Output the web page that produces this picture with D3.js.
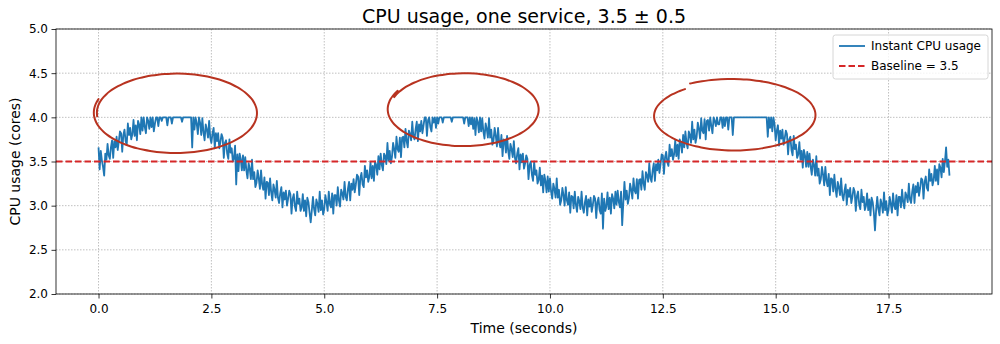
<!DOCTYPE html>
<html>
<head>
<meta charset="utf-8">
<script src="https://cdn.jsdelivr.net/npm/d3@7"></script>
<style>
  html, body { margin: 0; padding: 0; background: #fff; }
  svg { display: block; font-family: "DejaVu Sans", sans-serif; }
</style>
</head>
<body>
<svg id="chart" width="1000" height="344"></svg>
<script>
// ---------------- data ----------------
const chartTitle = "CPU usage, one service, 3.5 \u00b1 0.5";
const xLabel = "Time (seconds)";
const yLabel = "CPU usage (cores)";
const seriesName = "Instant CPU usage";
const baselineName = "Baseline = 3.5";
const baselineValue = 3.5;
const timeStart = 0;
const timeEnd = 18.85;
const xTicks = [0, 2.5, 5, 7.5, 10, 12.5, 15, 17.5];
const yTicks = [2.0, 2.5, 3.0, 3.5, 4.0, 4.5, 5.0];
const xDomain = [-0.942, 19.792];
const yDomain = [2.0, 5.0];

// CPU samples, evenly spaced from timeStart to timeEnd
const cpuValues = [
  3.66, 3.41, 3.62, 3.51, 3.44, 3.34, 3.59, 3.52, 3.70, 3.57,
  3.53, 3.66, 3.74, 3.54, 3.73, 3.66, 3.78, 3.63, 3.73, 3.84,
  3.82, 3.61, 3.80, 3.86, 3.73, 3.69, 3.93, 3.80, 3.88, 3.75,
  3.81, 3.97, 3.79, 3.91, 3.74, 3.96, 3.92, 3.81, 4.00, 3.85,
  4.00, 3.89, 3.82, 4.00, 3.96, 3.87, 4.00, 3.89, 4.00, 3.84,
  3.93, 4.00, 4.00, 3.90, 4.00, 4.00, 3.96, 4.00, 4.00, 4.00,
  4.00, 3.91, 4.00, 4.00, 4.00, 3.93, 4.00, 4.00, 4.00, 4.00,
  4.00, 4.00, 4.00, 4.00, 3.95, 4.00, 4.00, 4.00, 4.00, 4.00,
  4.00, 4.00, 4.00, 3.66, 4.00, 3.86, 4.00, 3.93, 3.81, 4.00,
  3.94, 3.80, 3.99, 3.83, 3.74, 3.92, 3.86, 3.77, 3.96, 3.77,
  3.71, 3.82, 3.88, 3.65, 3.82, 3.73, 3.82, 3.65, 3.72, 3.81,
  3.77, 3.54, 3.71, 3.74, 3.59, 3.53, 3.75, 3.60, 3.65, 3.50,
  3.54, 3.68, 3.24, 3.58, 3.39, 3.59, 3.53, 3.40, 3.57, 3.40,
  3.55, 3.40, 3.31, 3.48, 3.42, 3.30, 3.52, 3.30, 3.38, 3.21,
  3.26, 3.40, 3.31, 3.19, 3.40, 3.24, 3.18, 3.32, 3.08, 3.27,
  3.26, 3.12, 3.31, 3.15, 3.06, 3.24, 3.18, 3.09, 3.28, 3.09,
  3.03, 3.14, 3.21, 2.98, 3.15, 3.07, 3.17, 3.00, 3.08, 3.17,
  3.13, 2.91, 3.08, 3.13, 2.99, 2.94, 3.16, 3.02, 3.08, 2.94,
  2.98, 3.13, 2.94, 3.06, 2.88, 3.09, 3.04, 2.92, 2.81, 2.95,
  3.10, 2.96, 2.89, 3.07, 3.02, 2.93, 3.16, 2.95, 3.06, 2.90,
  2.96, 3.12, 3.04, 2.94, 3.16, 3.02, 2.98, 3.14, 2.91, 3.12,
  3.12, 3.00, 3.21, 3.06, 2.99, 3.18, 3.14, 3.07, 3.27, 3.10,
  3.06, 3.19, 3.27, 3.06, 3.25, 3.18, 3.30, 3.15, 3.24, 3.35,
  3.33, 3.12, 3.31, 3.37, 3.24, 3.21, 3.45, 3.32, 3.40, 3.27,
  3.33, 3.49, 3.31, 3.45, 3.28, 3.50, 3.46, 3.35, 3.56, 3.41,
  3.59, 3.46, 3.40, 3.59, 3.56, 3.47, 3.71, 3.51, 3.62, 3.48,
  3.55, 3.71, 3.64, 3.54, 3.78, 3.64, 3.61, 3.77, 3.55, 3.77,
  3.78, 3.66, 3.87, 3.73, 3.66, 3.85, 3.81, 3.74, 3.95, 3.78,
  3.75, 3.87, 3.95, 3.73, 3.92, 3.84, 3.96, 3.82, 3.91, 4.00,
  4.00, 3.79, 3.97, 4.00, 3.89, 3.84, 4.00, 3.94, 4.00, 3.88,
  4.00, 3.93, 4.00, 4.00, 4.00, 3.94, 4.00, 4.00, 4.00, 4.00,
  4.00, 4.00, 4.00, 3.95, 4.00, 4.00, 4.00, 4.00, 4.00, 4.00,
  4.00, 4.00, 4.00, 4.00, 3.93, 4.00, 4.00, 4.00, 3.90, 4.00,
  3.92, 4.00, 3.87, 3.99, 3.80, 4.00, 3.95, 3.83, 4.00, 3.84,
  3.99, 3.84, 3.76, 3.93, 3.87, 3.77, 3.99, 3.77, 3.86, 3.69,
  3.74, 3.88, 3.79, 3.67, 3.88, 3.72, 3.66, 3.80, 3.56, 3.75,
  3.74, 3.60, 3.79, 3.62, 3.53, 3.70, 3.64, 3.55, 3.73, 3.54,
  3.48, 3.59, 3.65, 3.41, 3.58, 3.49, 3.59, 3.42, 3.48, 3.57,
  3.53, 3.30, 3.46, 3.50, 3.35, 3.28, 3.50, 3.35, 3.40, 3.25,
  3.29, 3.43, 3.23, 3.34, 3.15, 3.35, 3.28, 3.15, 3.33, 3.16,
  3.31, 3.16, 3.08, 3.25, 3.19, 3.09, 3.31, 3.09, 3.18, 3.01,
  3.06, 3.20, 3.12, 3.00, 3.21, 3.06, 3.01, 3.15, 2.92, 3.11,
  3.10, 2.97, 3.16, 3.01, 2.93, 3.10, 3.05, 2.96, 3.16, 2.98,
  2.92, 3.04, 3.11, 2.89, 3.07, 2.99, 3.09, 2.93, 3.01, 3.11,
  3.08, 2.86, 3.04, 3.09, 2.95, 2.91, 3.14, 2.74, 3.08, 2.94,
  2.99, 3.15, 2.96, 3.09, 2.91, 3.13, 3.08, 2.97, 3.16, 3.01,
  3.17, 3.04, 2.98, 3.16, 2.78, 3.03, 3.27, 3.07, 3.17, 3.02,
  3.09, 3.25, 3.18, 3.08, 3.31, 3.17, 3.14, 3.30, 3.08, 3.29,
  3.30, 3.18, 3.39, 3.25, 3.18, 3.38, 3.34, 3.27, 3.48, 3.31,
  3.27, 3.40, 3.48, 3.28, 3.47, 3.40, 3.52, 3.37, 3.47, 3.58,
  3.57, 3.36, 3.55, 3.61, 3.49, 3.45, 3.69, 3.56, 3.64, 3.52,
  3.58, 3.74, 3.56, 3.69, 3.53, 3.75, 3.71, 3.60, 3.80, 3.66,
  3.84, 3.71, 3.65, 3.84, 3.80, 3.71, 3.95, 3.75, 3.86, 3.71,
  3.78, 3.94, 3.87, 3.76, 3.99, 3.85, 3.82, 3.98, 3.75, 3.96,
  3.97, 3.85, 4.00, 3.90, 3.82, 4.00, 3.96, 3.90, 4.00, 3.92,
  3.92, 4.00, 4.00, 3.88, 4.00, 3.90, 4.00, 4.00, 3.86, 4.00,
  4.00, 4.00, 3.80, 4.00, 4.00, 4.00, 4.00, 4.00, 4.00, 4.00,
  4.00, 4.00, 4.00, 4.00, 4.00, 4.00, 4.00, 4.00, 4.00, 4.00,
  4.00, 4.00, 4.00, 4.00, 4.00, 4.00, 4.00, 4.00, 4.00, 4.00,
  4.00, 4.00, 4.00, 3.78, 4.00, 3.88, 4.00, 3.84, 4.00, 3.92,
  3.74, 3.85, 3.91, 3.68, 3.85, 3.76, 3.86, 3.69, 3.76, 3.85,
  3.81, 3.58, 3.75, 3.78, 3.63, 3.57, 3.79, 3.64, 3.69, 3.54,
  3.58, 3.72, 3.52, 3.62, 3.43, 3.63, 3.57, 3.44, 3.61, 3.44,
  3.59, 3.44, 3.35, 3.52, 3.46, 3.34, 3.56, 3.34, 3.42, 3.25,
  3.30, 3.44, 3.35, 3.23, 3.44, 3.28, 3.22, 3.36, 3.12, 3.31,
  3.30, 3.16, 3.35, 3.19, 3.10, 3.27, 3.21, 3.12, 3.31, 3.12,
  3.06, 3.17, 3.24, 3.01, 3.18, 3.10, 3.20, 3.03, 3.10, 3.20,
  3.16, 2.94, 3.11, 3.16, 3.01, 2.96, 3.18, 3.04, 3.10, 2.95,
  3.00, 3.14, 2.95, 3.07, 2.89, 3.09, 3.04, 2.92, 2.72, 2.95,
  3.10, 2.96, 2.89, 3.07, 3.02, 2.92, 3.15, 2.95, 3.05, 2.89,
  2.95, 3.10, 3.02, 2.92, 3.14, 3.00, 2.96, 3.12, 2.89, 3.10,
  3.10, 2.98, 3.18, 3.04, 2.97, 3.15, 3.11, 3.04, 3.25, 3.07,
  3.03, 3.16, 3.24, 3.03, 3.22, 3.15, 3.26, 3.11, 3.20, 3.31,
  3.29, 3.08, 3.27, 3.33, 3.20, 3.17, 3.41, 3.28, 3.36, 3.23,
  3.29, 3.45, 3.28, 3.41, 3.24, 3.47, 3.43, 3.32, 3.53, 3.38,
  3.50, 3.66, 3.44, 3.52, 3.34
];

// hand-drawn annotation loops, in data units
const annoCenterT = [1.72, 8.09, 14.05];
const annoCenterV = [4.05, 4.09, 4.02];
const annoRadiusT = [1.83, 1.69, 1.72];
const annoRadiusV = [0.46, 0.42, 0.38];
const annoStartDeg = [160, 150, 128];
const annoSweepDeg = [385, 370, 352];
const annoScaleEnd = [0.96, 0.97, 1.10];

// ---------------- drawing ----------------
(function () {
const svg = d3.select("#chart");
const pL = 56, pR = 992, pT = 29, pB = 294;

const x = d3.scaleLinear().domain(xDomain).range([pL, pR]);
const y = d3.scaleLinear().domain(yDomain).range([pB, pT]);

const n = cpuValues.length;
const tAt = i => timeStart + (timeEnd - timeStart) * i / (n - 1);

const grid = svg.append("g");
grid.selectAll("line.gx").data(xTicks).join("line")
  .attr("x1", d => x(d)).attr("x2", d => x(d))
  .attr("y1", pT).attr("y2", pB)
  .attr("stroke", "#b0b0b0").attr("stroke-width", 0.8)
  .attr("stroke-dasharray", "1.5,1.5");
grid.selectAll("line.gy").data(yTicks).join("line")
  .attr("x1", pL).attr("x2", pR)
  .attr("y1", d => y(d)).attr("y2", d => y(d))
  .attr("stroke", "#b0b0b0").attr("stroke-width", 0.8)
  .attr("stroke-dasharray", "1.5,1.5");

svg.append("clipPath").attr("id", "clip").append("rect")
  .attr("x", pL).attr("y", pT).attr("width", pR - pL).attr("height", pB - pT);

const plot = svg.append("g").attr("clip-path", "url(#clip)");

const line = d3.line().x((d, i) => x(tAt(i))).y(d => y(d));
plot.append("path").datum(cpuValues)
  .attr("d", line)
  .attr("fill", "none")
  .attr("stroke", "#1f77b4")
  .attr("stroke-width", 1.8)
  .attr("stroke-linejoin", "round");

plot.append("line")
  .attr("x1", pL).attr("x2", pR)
  .attr("y1", y(baselineValue)).attr("y2", y(baselineValue))
  .attr("stroke", "#d62728").attr("stroke-width", 1.8)
  .attr("stroke-dasharray", "6.5,3");

const annoLine = d3.line().x(d => x(d[0])).y(d => y(d[1])).curve(d3.curveBasis);
annoCenterT.forEach((cx, k) => {
  const pts = [];
  const steps = 80;
  for (let s = 0; s <= steps; s++) {
    const f = s / steps;
    const th = (annoStartDeg[k] + annoSweepDeg[k] * f) * Math.PI / 180;
    const sc = 1 + (annoScaleEnd[k] - 1) * f;
    pts.push([cx + annoRadiusT[k] * sc * Math.cos(th), annoCenterV[k] + annoRadiusV[k] * sc * Math.sin(th)]);
  }
  svg.append("path").datum(pts)
    .attr("d", annoLine)
    .attr("fill", "none")
    .attr("stroke", "#b83320")
    .attr("stroke-width", 2)
    .attr("stroke-linecap", "round");
});

const xAxis = d3.axisBottom(x).tickValues(xTicks).tickFormat(d3.format(".1f")).tickSize(4.5).tickPadding(6);
const yAxis = d3.axisLeft(y).tickValues(yTicks).tickFormat(d3.format(".1f")).tickSize(4.5).tickPadding(3.5);
const gx = svg.append("g").attr("transform", `translate(0,${pB})`).call(xAxis);
const gy = svg.append("g").attr("transform", `translate(${pL},0)`).call(yAxis);
[gx, gy].forEach(g => {
  g.select(".domain").remove();
  g.selectAll(".tick line").attr("stroke", "#000").attr("stroke-width", 0.8);
  g.selectAll(".tick text").attr("fill", "#000").style("font-size", "12px").style("font-family", "DejaVu Sans");
});

svg.append("rect")
  .attr("x", pL).attr("y", pT).attr("width", pR - pL).attr("height", pB - pT)
  .attr("fill", "none").attr("stroke", "#000").attr("stroke-width", 0.8);

svg.append("text").attr("x", (pL + pR) / 2).attr("y", 23)
  .attr("text-anchor", "middle").style("font-size", "19px").text(chartTitle);
svg.append("text").attr("x", (pL + pR) / 2).attr("y", 333)
  .attr("text-anchor", "middle").style("font-size", "14px").text(xLabel);
svg.append("text").attr("transform", `translate(20,${(pT + pB) / 2}) rotate(-90)`)
  .attr("text-anchor", "middle").style("font-size", "14px").text(yLabel);

const lg = svg.append("g");
lg.append("rect").attr("x", 833).attr("y", 35).attr("width", 155).attr("height", 44)
  .attr("rx", 2.5).attr("fill", "#fff").attr("fill-opacity", 0.8)
  .attr("stroke", "#cccccc").attr("stroke-width", 0.8);
lg.append("line").attr("x1", 839).attr("x2", 865).attr("y1", 46).attr("y2", 46)
  .attr("stroke", "#1f77b4").attr("stroke-width", 1.8);
lg.append("text").attr("x", 871).attr("y", 50).style("font-size", "12px").text(seriesName);
lg.append("line").attr("x1", 839).attr("x2", 865).attr("y1", 66).attr("y2", 66)
  .attr("stroke", "#d62728").attr("stroke-width", 1.8).attr("stroke-dasharray", "6.5,3");
lg.append("text").attr("x", 871).attr("y", 70).style("font-size", "12px").text(baselineName);
})();
</script>
</body>
</html>
